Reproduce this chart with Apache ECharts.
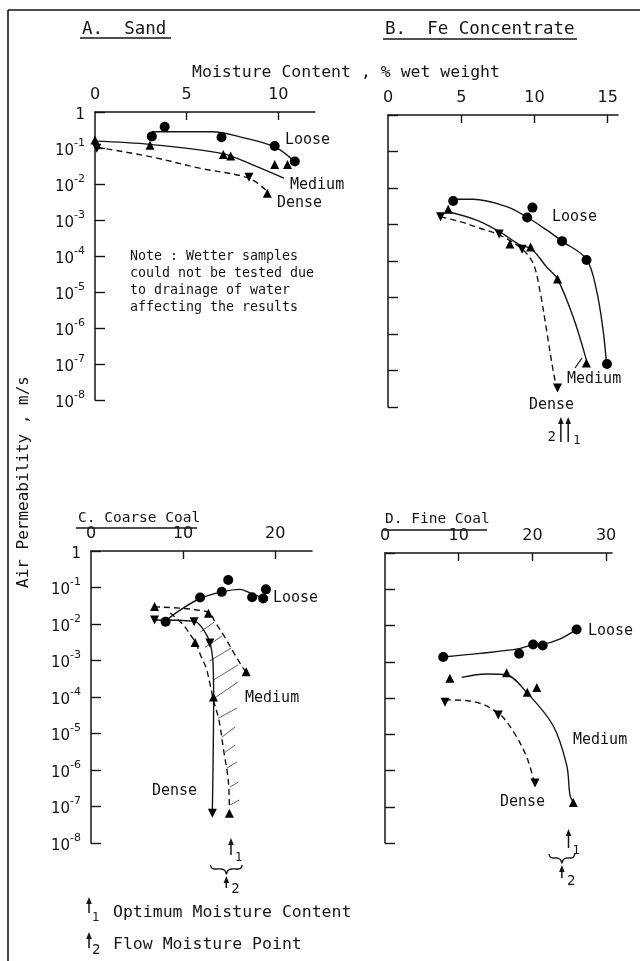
<!DOCTYPE html>
<html>
<head>
<meta charset="utf-8">
<script src="https://cdn.jsdelivr.net/npm/echarts@6/dist/echarts.min.js"></script>
<style>
  html, body { margin: 0; padding: 0; background: #fff; }
  #chart { width: 640px; height: 961px; }
</style>
</head>
<body>
<div id="chart"></div>
<script>
// Air permeability (m/s) against moisture content (% wet weight)
// for four bulk materials at three packing states.

// Decade ticks of the permeability scale
const decades = [1, 1e-1, 1e-2, 1e-3, 1e-4, 1e-5, 1e-6, 1e-7, 1e-8];

// Moisture ticks per panel
const sandTicks = [0, 5, 10];
const feTicks = [0, 5, 10, 15];
const coarseTicks = [0, 10, 20];
const fineTicks = [0, 10, 20, 30];

// A. Sand — measured points [moisture, permeability]
const sandLoose = [[3.1, 0.21], [3.8, 0.39], [6.9, 0.2], [9.8, 0.114], [10.9, 0.042]];
const sandMedium = [[0, 0.166], [3.0, 0.12], [7.0, 0.066], [7.4, 0.06], [9.8, 0.035], [10.5, 0.035], [9.4, 0.0055]];
const sandDense = [[0.1, 0.098], [8.4, 0.0154]];
// A. Sand — fitted curves
const sandLooseFit = [[3.1, 0.284], [6.4, 0.284], [7.9, 0.204], [9.8, 0.107], [10.9, 0.041]];
const sandMediumFit = [[0, 0.155], [3.0, 0.126], [6.9, 0.071], [8.6, 0.034], [10.3, 0.0145]];
const sandDenseFit = [[0.1, 0.105], [3.0, 0.0575], [5.7, 0.0275], [8.4, 0.0145], [9.4, 0.0062]];

// B. Fe Concentrate
const feLoose = [[4.45, 4.4e-3], [9.86, 2.9e-3], [9.5, 1.55e-3], [11.88, 3.5e-4], [13.55, 1.07e-4], [14.95, 1.5e-7]];
const feMedium = [[4.11, 2.6e-3], [8.32, 2.9e-4], [9.73, 2.4e-4], [11.57, 3.2e-5], [13.54, 1.6e-7]];
const feDense = [[3.59, 1.63e-3], [7.59, 5.5e-4], [9.15, 2.1e-4]];
const feDenseEnd = [[11.57, 3.3e-8]];
const feLooseFit = [[4.45, 4.9e-3], [5.81, 4.9e-3], [8.09, 3.1e-3], [9.45, 1.63e-3], [10.82, 7.1e-4], [11.88, 3.5e-4], [13.54, 1.13e-4], [14.23, 1.6e-5], [14.68, 1.3e-6], [14.91, 1.6e-7]];
const feMediumFit = [[4.11, 2.24e-3], [6.05, 1.32e-3], [7.63, 6.3e-4], [9.0, 2.75e-4], [9.8, 2.14e-4], [10.82, 6.9e-5], [11.57, 3.2e-5], [12.63, 3.0e-6], [13.54, 1.95e-7]];
const feDenseFit = [[3.59, 1.63e-3], [4.91, 1.2e-3], [6.27, 7.9e-4], [7.63, 5.1e-4], [9.11, 2.2e-4], [9.9, 8.7e-5], [10.36, 1.6e-5], [10.82, 1.3e-6], [11.27, 1.0e-7], [11.55, 2.9e-8]];

// C. Coarse Coal
const coarseLoose = [[8.1, 0.0116], [11.85, 0.053], [14.2, 0.076], [14.9, 0.16], [17.5, 0.054], [18.7, 0.05], [19.0, 0.089]];
const coarseMedium = [[6.9, 0.03], [12.75, 0.0196], [11.3, 3.1e-3], [16.85, 4.9e-4], [13.3, 1.0e-4], [15.03, 6.5e-8]];
const coarseDense = [[6.9, 0.0129], [11.2, 0.0116], [12.9, 3.0e-3]];
const coarseDenseEnd = [[13.18, 6.5e-8]];
const coarseLooseFit = [[8.0, 0.0116], [9.67, 0.024], [11.85, 0.05], [14.2, 0.076], [16.2, 0.089], [17.5, 0.066], [18.7, 0.053]];
const coarseMediumOuterFit = [[6.85, 0.0295], [12.72, 0.0214], [13.48, 0.0112], [14.57, 4.2e-3], [15.65, 1.4e-3], [16.52, 6.2e-4], [16.85, 4.8e-4]];
const coarseMediumInnerFit = [[8.6, 0.02], [10.05, 9.3e-3], [10.8, 5e-3], [11.4, 3.0e-3], [11.9, 1.4e-3], [12.5, 6.3e-4], [12.9, 2.4e-4], [13.3, 8.3e-5], [13.9, 2.3e-5], [14.4, 3.5e-6], [14.9, 5.4e-7], [15.03, 1.0e-7]];
const coarseDenseFit = [[6.85, 0.0129], [11.2, 0.012], [12.17, 7.2e-3], [12.93, 3.0e-3], [13.26, 7.6e-4], [13.32, 8.3e-5], [13.26, 1.9e-6], [13.18, 8e-8]];
// Hatched band between the medium-density limits
const coarseHatch = [
  [[11.85, 6.0e-3], [13.37, 1.12e-2]],
  [[12.39, 2.3e-3], [14.24, 4.7e-3]],
  [[12.93, 9.8e-4], [15.22, 2.2e-3]],
  [[13.37, 3.0e-4], [15.98, 7.6e-4]],
  [[13.59, 1.0e-4], [15.98, 2.6e-4]],
  [[13.8, 2.6e-5], [15.87, 5.0e-5]],
  [[14.2, 7.9e-6], [15.65, 1.5e-5]],
  [[14.57, 3.1e-6], [15.65, 4.8e-6]],
  [[14.75, 1.12e-6], [15.84, 1.66e-6]],
  [[15.1, 3.4e-7], [16.0, 4.7e-7]],
  [[15.1, 1.1e-7], [16.1, 1.5e-7]]
];

// D. Fine Coal
const fineLoose = [[7.9, 1.35e-3], [18.2, 1.67e-3], [20.1, 3.0e-3], [21.4, 2.8e-3], [26.0, 7.8e-3]];
const fineMedium = [[8.8, 3.5e-4], [16.5, 5.0e-4], [19.3, 1.44e-4], [20.6, 1.96e-4], [25.55, 1.3e-7]];
const fineDense = [[8.14, 7.6e-5], [15.37, 3.4e-5]];
const fineDenseEnd = [[20.35, 4.5e-7]];
const fineLooseFit = [[7.9, 1.35e-3], [12.9, 1.7e-3], [18.2, 2.3e-3], [20.1, 2.95e-3], [21.4, 3.05e-3], [23.7, 4.2e-3], [26.0, 7.8e-3]];
const fineMediumFit = [[10.4, 3.7e-4], [13.8, 4.6e-4], [16.5, 4.3e-4], [19.2, 1.44e-4], [22.8, 1.74e-5], [24.65, 1.4e-6], [25.1, 2.1e-7], [25.55, 1.3e-7]];
const fineDenseFit = [[8.14, 8.9e-5], [11.53, 8.3e-5], [15.33, 3.9e-5], [17.64, 1.0e-5], [19.4, 1.9e-6], [20.35, 3.6e-7]];

// Optimum moisture content (1) and flow moisture point (2), % wet weight
const optimumMoisture = [null, 12.3, 15.2, 24.9];
const flowMoisture = [null, 11.8, 14.7, 24.0];

const INK = '#141414';
const FONT = '"DejaVu Sans", "Noto Sans", sans-serif';
const LETTER = '"DejaVu Sans Mono", "Liberation Mono", monospace';

const panels = [
  { left: 95, top: 112, width: 220, height: 288, xMax: 12, ticks: sandTicks, yLabels: true },
  { left: 388, top: 115, width: 230, height: 292, xMax: 15.7, ticks: feTicks, yLabels: false },
  { left: 91, top: 551, width: 221, height: 292, xMax: 24, ticks: coarseTicks, yLabels: true },
  { left: 385, top: 553, width: 227, height: 290, xMax: 30.8, ticks: fineTicks, yLabels: false }
];

function decadeLabel(v) {
  const e = Math.round(Math.log10(v));
  return e === 0 ? '{b|1}' : '{b|10}{s|' + e + '}';
}

const grid = panels.map(p => ({ left: p.left, top: p.top, width: p.width, height: p.height }));
const xAxis = panels.map((p, i) => ({
  type: 'value', gridIndex: i, position: 'top', min: 0, max: p.xMax,
  axisLine: { show: true, onZero: false, lineStyle: { color: INK, width: 1.5 } },
  axisTick: { show: true, inside: true, length: 8, customValues: p.ticks.slice(1), lineStyle: { color: INK, width: 1.4 } },
  axisLabel: { show: true, customValues: p.ticks, margin: 9, color: INK, fontFamily: FONT, fontSize: 16 },
  splitLine: { show: false }
}));
const yAxis = panels.map((p, i) => ({
  type: 'log', logBase: 10, gridIndex: i, min: 1e-8, max: 1,
  axisLine: { show: true, onZero: false, lineStyle: { color: INK, width: 1.5 } },
  axisTick: { show: true, inside: true, length: 10, customValues: decades, lineStyle: { color: INK, width: 1.4 } },
  axisLabel: {
    show: p.yLabels, customValues: decades, margin: 10, formatter: decadeLabel,
    rich: {
      b: { fontFamily: FONT, fontSize: 15, color: INK, verticalAlign: 'bottom', lineHeight: 21 },
      s: { fontFamily: FONT, fontSize: 11, color: INK, verticalAlign: 'top', lineHeight: 21 }
    }
  },
  splitLine: { show: false }
}));

function fit(i, data, dashed) {
  return {
    type: 'line', xAxisIndex: i, yAxisIndex: i, data: data, smooth: 0.35,
    symbol: 'none', silent: true, z: 2,
    lineStyle: { color: INK, width: 1.4, type: dashed ? [6, 4] : 'solid' }
  };
}
function marks(i, data, shape) {
  const down = shape === 'down';
  return {
    type: 'scatter', xAxisIndex: i, yAxisIndex: i, data: data, silent: true, z: 3,
    symbol: shape === 'circle' ? 'circle' : 'triangle',
    symbolRotate: down ? 180 : 0,
    symbolSize: shape === 'circle' ? 10 : 9,
    itemStyle: { color: '#000', opacity: 1 }
  };
}

const series = [
  fit(0, sandLooseFit), fit(0, sandMediumFit), fit(0, sandDenseFit, true),
  marks(0, sandLoose, 'circle'), marks(0, sandMedium, 'up'), marks(0, sandDense, 'down'),

  fit(1, feLooseFit), fit(1, feMediumFit), fit(1, feDenseFit, true),
  marks(1, feLoose, 'circle'), marks(1, feMedium, 'up'), marks(1, feDense, 'down'), marks(1, feDenseEnd, 'down'),

  fit(2, coarseLooseFit), fit(2, coarseMediumOuterFit, true), fit(2, coarseMediumInnerFit, true), fit(2, coarseDenseFit),
  marks(2, coarseLoose, 'circle'), marks(2, coarseMedium, 'up'), marks(2, coarseDense, 'down'), marks(2, coarseDenseEnd, 'down'),
  {
    type: 'lines', coordinateSystem: 'cartesian2d', xAxisIndex: 2, yAxisIndex: 2, silent: true, z: 1,
    data: coarseHatch.map(s => ({ coords: s })),
    lineStyle: { color: INK, width: 0.9, opacity: 0.75 }
  },

  fit(3, fineLooseFit), fit(3, fineMediumFit), fit(3, fineDenseFit, true),
  marks(3, fineLoose, 'circle'), marks(3, fineMedium, 'up'), marks(3, fineDense, 'down'), marks(3, fineDenseEnd, 'down')
];

const chart = echarts.init(document.getElementById('chart'), null, { renderer: 'canvas' });
chart.setOption({ animation: false, backgroundColor: '#fff', grid, xAxis, yAxis, series });

// ---- annotation layer ----
function txt(s, x, y, size, align, extra) {
  return Object.assign({
    type: 'text', x: x, y: y, silent: true,
    style: { text: s, fontFamily: LETTER, fontSize: size, fill: INK, align: align || 'left', verticalAlign: 'middle' }
  }, extra || {});
}
function seg(x1, y1, x2, y2, w) {
  return { type: 'line', silent: true, shape: { x1, y1, x2, y2 }, style: { stroke: INK, lineWidth: w || 1.4 } };
}
function upArrow(x, yTop, yBottom) {
  return [
    seg(x, yTop + 4, x, yBottom, 1.5),
    { type: 'polygon', silent: true, shape: { points: [[x, yTop], [x - 2.8, yTop + 7], [x + 2.8, yTop + 7]] }, style: { fill: INK } }
  ];
}
function brace(cx, y, hw) {
  return {
    type: 'polyline', silent: true,
    shape: { smooth: 0.4, points: [[cx - hw, y - 4], [cx - hw + 2, y - 0.5], [cx - hw + 6, y], [cx - 5, y], [cx - 1.5, y + 1.5], [cx, y + 5], [cx + 1.5, y + 1.5], [cx + 5, y], [cx + hw - 6, y], [cx + hw - 2, y - 0.5], [cx + hw, y - 4]] },
    style: { stroke: INK, lineWidth: 1.3, fill: null }
  };
}
const px = (i, v) => chart.convertToPixel({ xAxisIndex: i }, v);

const g = [];
// frame
g.push(seg(8, 10, 640, 10, 1.6), seg(8, 10, 8, 961, 1.6));
// panel titles
g.push(txt('A.  Sand', 82, 29, 17.5), seg(80, 38, 171, 38, 1.5));
g.push(txt('B.  Fe Concentrate', 385, 29, 17.5), seg(383, 39, 577, 39, 1.5));
g.push(txt('C. Coarse Coal', 78, 518, 14.5), seg(76, 528, 197, 528, 1.5));
g.push(txt('D. Fine Coal', 385, 519, 14.5), seg(383, 530, 487, 530, 1.5));
// shared axis titles
g.push(txt('Moisture Content , % wet weight', 346, 73, 16.5, 'center'));
g.push(txt('Air Permeability , m/s', 24, 482, 16, 'center', { rotation: Math.PI / 2 }));
// note in panel A
['Note : Wetter samples', 'could not be tested due', 'to drainage of water', 'affecting the results']
  .forEach((s, k) => g.push(txt(s, 130, 257 + k * 16.8, 13.3)));
// curve labels
const L = 15;
g.push(txt('Loose', 285, 140, L), txt('Medium', 290, 185, L), txt('Dense', 277, 203, L));
g.push(txt('Loose', 552, 217, L), txt('Medium', 567, 379, L), txt('Dense', 529, 405, L), seg(575, 368, 582, 358, 1.2));
g.push(txt('Loose', 273, 598, L), txt('Medium', 245, 698, L), txt('Dense', 152, 791, L));
g.push(txt('Loose', 588, 631, L), txt('Medium', 573, 740, L), txt('Dense', 500, 802, L));

// optimum / flow moisture markers under panels B, C, D
{
  const x1 = px(1, optimumMoisture[1]), x2 = px(1, flowMoisture[1]);
  g.push(...upArrow(x1, 417, 442), ...upArrow(x2, 417, 442));
  g.push(txt('1', x1 + 5, 441, 12), txt('2', x2 - 5, 437, 14, 'right'));
}
{
  const x1 = px(2, optimumMoisture[2]), x2 = px(2, flowMoisture[2]);
  g.push(...upArrow(x1, 838, 855), txt('1', x1 + 4, 858, 12));
  g.push(brace(x2, 869, 16));
  g.push(...upArrow(x2, 876, 888), txt('2', x2 + 5, 889, 14));
}
{
  const x1 = px(3, optimumMoisture[3]), x2 = px(3, flowMoisture[3]);
  g.push(...upArrow(x1, 829, 848), txt('1', x1 + 4, 851, 12));
  g.push(brace(x2, 858, 13));
  g.push(...upArrow(x2, 865, 878), txt('2', x2 + 5, 881, 14));
}
// key
g.push(...upArrow(89, 897, 913), txt('1', 92, 918, 12), txt('Optimum Moisture Content', 113, 913, 16.5));
g.push(...upArrow(89, 932, 948), txt('2', 92, 950, 14), txt('Flow Moisture Point', 113, 945, 16.5));

chart.setOption({ graphic: { elements: g } });
</script>
</body>
</html>
